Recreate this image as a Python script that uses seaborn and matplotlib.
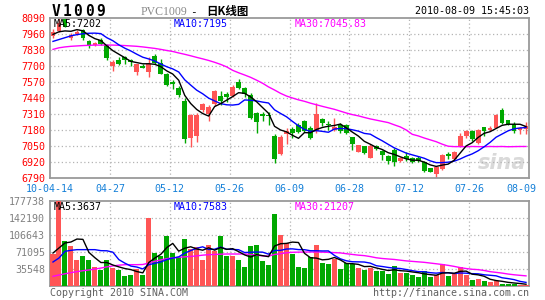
import numpy as np
import pandas as pd
import matplotlib
matplotlib.use("Agg")
import matplotlib.pyplot as plt
import seaborn as sns

# ---------------- data ----------------
date_labels = ["10-04-14", "04-27", "05-12", "05-26", "06-09",
               "06-28", "07-12", "07-26", "08-09"]

opens = [7946, 7985, 8080, 7928, 7962, 7990, 7905, 7868, 7910, 7870,
         7703, 7748, 7770, 7750, 7655, 7703, 7650, 7785, 7722, 7635,
         7573, 7522, 7418, 7112, 7131, 7343, 7310, 7389, 7456, 7472,
         7459, 7573, 7524, 7464, 7315, 7310, 7305, 7131, 6982, 7150,
         7190, 7221, 7253, 7200, 7175, 7270, 7225, 7178, 7221, 7221,
         7121, 7004, 7050, 6955, 7050, 7010, 6972, 7017, 6928, 6965,
         6950, 6955, 6923, 6869, 6820, 6863, 6985, 6945, 7045, 7134,
         7172, 7072, 7202, 7183, 7199, 7343, 7261, 7226, 7180, 7190]
closes = [7973, 8050, 8020, 7955, 7980, 7925, 7862, 7888, 7878, 7765,
          7730, 7718, 7745, 7730, 7715, 7682, 7720, 7722, 7635, 7542,
          7555, 7466, 7110, 7302, 7302, 7389, 7364, 7497, 7418, 7445,
          7532, 7524, 7470, 7275, 7248, 7295, 7290, 6942, 7126, 7172,
          7155, 7167, 7175, 7115, 7310, 7236, 7218, 7205, 7172, 7155,
          7064, 7058, 6990, 7053, 7028, 6977, 6928, 6923, 6955, 6945,
          6923, 6925, 6848, 6842, 6882, 6977, 6965, 7004, 7134, 7172,
          7107, 7180, 7172, 7200, 7302, 7234, 7226, 7172, 7199, 7210]
highs = [7998, 8088, 8090, 7965, 7992, 8000, 7912, 7895, 7925, 7880,
         7750, 7770, 7785, 7755, 7720, 7720, 7775, 7795, 7760, 7645,
         7585, 7537, 7437, 7310, 7315, 7400, 7380, 7505, 7497, 7485,
         7545, 7595, 7530, 7478, 7330, 7330, 7330, 7150, 7140, 7195,
         7205, 7235, 7262, 7210, 7400, 7275, 7250, 7275, 7235, 7230,
         7126, 7062, 7053, 7070, 7058, 7017, 6977, 7030, 6963, 7000,
         6960, 6965, 6930, 6875, 6885, 6985, 7000, 7010, 7153, 7180,
         7178, 7188, 7205, 7213, 7310, 7357, 7265, 7242, 7202, 7245]
lows = [7930, 7975, 8015, 7912, 7955, 7915, 7845, 7860, 7870, 7750,
        7662, 7705, 7715, 7700, 7630, 7680, 7608, 7715, 7632, 7540,
        7515, 7451, 7075, 7045, 7085, 7330, 7256, 7375, 7385, 7405,
        7450, 7515, 7450, 7268, 7158, 7250, 7220, 6909, 6975, 7070,
        7115, 7155, 7165, 7110, 7155, 7215, 7180, 7170, 7155, 7145,
        7017, 6998, 6985, 6950, 7017, 6937, 6905, 6890, 6923, 6925,
        6915, 6920, 6840, 6835, 6793, 6855, 6945, 6935, 7040, 7118,
        7090, 7068, 7135, 7172, 7195, 7225, 7220, 7153, 7145, 7150]
volumes = [66900, 190000, 94800, 84300, 55100, 63400, 53700, 39000, 34200, 55000,
           37600, 34200, 21600, 23000, 34900, 23700, 142200, 68000, 62000, 105200,
           68000, 61000, 99000, 77000, 82000, 55100, 86400, 74000, 105200, 62000,
           63000, 55100, 40000, 82900, 86400, 53000, 44300, 151200, 107000, 90000,
           66500, 40000, 38000, 61000, 86000, 48500, 45500, 57000, 35500, 49000,
           46500, 38000, 34000, 38000, 32000, 32000, 26000, 42000, 28000, 28000,
           23000, 18000, 30700, 19000, 22000, 45000, 21600, 25000, 40000, 24000,
           13000, 14700, 10300, 8700, 10300, 5000, 4000, 3500, 3000, 3000]

# moving-average values before a full window is available
price_ma5_head = [7957, 7978, 7985, 7982]
price_ma10_head = [7900, 7915, 7930, 7945, 7955, 7962, 7966, 7967, 7963]
price_ma30 = [7835, 7848, 7855, 7860, 7863, 7866, 7868, 7870, 7870, 7870,
              7870, 7868, 7866, 7863, 7860, 7855, 7849, 7843, 7835, 7826,
              7818, 7806, 7795, 7783, 7770, 7758, 7745, 7730, 7713, 7693,
              7665, 7645, 7627, 7608, 7585, 7560, 7530, 7505, 7478, 7456,
              7440, 7425, 7413, 7398, 7385, 7372, 7360, 7348, 7333, 7318,
              7305, 7295, 7282, 7270, 7260, 7250, 7240, 7222, 7205, 7180,
              7145, 7132, 7115, 7100, 7085, 7065, 7048, 7045, 7045, 7044,
              7046, 7045, 7044, 7046, 7045, 7046, 7044, 7045, 7046, 7046]
vol_ma5_head = [69000, 79500, 90000, 92000]
vol_ma10_head = [50200, 58500, 72500, 74600, 76000, 76000, 76000, 76000, 73900]
vol_ma30 = [20200, 23000, 25500, 28000, 30000, 32000, 33500, 35500, 37500, 40000,
            42000, 43500, 44600, 44600, 44600, 45000, 48000, 51600, 54500, 57200,
            58800, 60000, 61000, 61800, 63000, 64500, 65500, 66000, 66500, 66900,
            66900, 66900, 66900, 66000, 64500, 63000, 62500, 66000, 67500, 69500,
            70500, 70800, 71000, 71100, 71100, 70800, 70300, 69800, 69200, 67500,
            66000, 64500, 63500, 61500, 59000, 57500, 56500, 55500, 54000, 52500,
            51500, 50500, 49500, 48000, 46500, 45000, 43200, 41000, 38500, 36500,
            35000, 34200, 32500, 30000, 28500, 27000, 25000, 23500, 22300, 21200]

price_ticks = [6790, 6920, 7050, 7180, 7310, 7440, 7570, 7700, 7830, 7960, 8090]
vol_ticks = [35548, 71095, 106643, 142190, 177738]

# ---------------- derived ----------------
n = len(closes)
idx = np.arange(n)
df = pd.DataFrame({"idx": idx, "open": opens, "close": closes, "high": highs,
                   "low": lows, "vol": volumes})
df["dir"] = np.where(df["close"] >= df["open"], "up", "down")

def moving(series, window, head):
    m = pd.Series(series, dtype=float).rolling(window).mean()
    m.iloc[:len(head)] = head
    return m.values

ma5 = moving(closes, 5, price_ma5_head)
ma10 = moving(closes, 10, price_ma10_head)
vma5 = moving(volumes, 5, vol_ma5_head)
vma10 = moving(volumes, 10, vol_ma10_head)

RED = "#FF5555"
GREEN = "#00A800"
GRID = "#B4B4B4"
FRAME = "#9A9A9A"
MONO = "DejaVu Sans Mono"

W, H = 545, 300
fig = plt.figure(figsize=(W / 100, H / 100), dpi=100)
fig.patch.set_facecolor("white")

def fx(px):
    return px / W

def fy(py):
    return 1 - py / H

L, R = 50, 529
ax = fig.add_axes([fx(L), fy(178), (R - L) / W, 160 / H])
axv = fig.add_axes([fx(L), fy(286), (R - L) / W, 85 / H])

# ---------------- candles ----------------
colors = np.where(df["dir"] == "up", RED, GREEN)
ax.vlines(idx, df["low"], df["high"], colors=colors, linewidth=1.0, zorder=2)
body_bottom = np.minimum(df["open"], df["close"])
body_h = np.maximum(np.abs(df["close"] - df["open"]), 9)
ax.bar(idx, body_h, bottom=body_bottom, width=0.8, color=colors,
       linewidth=0, zorder=3)

sns.lineplot(x=idx, y=price_ma30, ax=ax, color="#FF00FF", linewidth=1.0,
             legend=False, zorder=4)
sns.lineplot(x=idx, y=ma10, ax=ax, color="#0000FF", linewidth=1.0,
             legend=False, zorder=5)
sns.lineplot(x=idx, y=ma5, ax=ax, color="black", linewidth=1.0,
             legend=False, zorder=6)

# ---------------- volume ----------------
sns.barplot(data=df, x="idx", y="vol", hue="dir", native_scale=True,
            palette={"up": RED, "down": GREEN}, dodge=False, width=0.84,
            saturation=1, errorbar=None, legend=False, ax=axv, zorder=3,
            linewidth=0)
sns.lineplot(x=idx, y=vol_ma30, ax=axv, color="#FF00FF", linewidth=1.0,
             legend=False, zorder=4)
sns.lineplot(x=idx, y=vma10, ax=axv, color="#0000FF", linewidth=1.0,
             legend=False, zorder=5)
sns.lineplot(x=idx, y=vma5, ax=axv, color="black", linewidth=1.0,
             legend=False, zorder=6)

# ---------------- axes styling ----------------
vgrid = [9.5 + 10 * k for k in range(7)]
for a in (ax, axv):
    a.set_xlim(-0.5, n - 0.5)
    a.set_xlabel("")
    a.set_ylabel("")
    a.set_xticks([])
    for ln in vgrid:
        a.axvline(ln, color=GRID, linewidth=0.9, linestyle=(0, (1, 2)), zorder=1)
    for s in a.spines.values():
        s.set_color(FRAME)
        s.set_linewidth(1.3)
    a.tick_params(axis="y", length=0, pad=3.5)
    a.set_facecolor("white")

ax.set_ylim(6790, 8090)
ax.set_yticks(price_ticks)
ax.set_yticklabels([str(t) for t in price_ticks], color="#FF0000",
                   fontsize=7.2, family=MONO)
for t in price_ticks[1:-1]:
    ax.axhline(t, color=GRID, linewidth=0.9, linestyle=(0, (1, 2)), zorder=1)

axv.set_ylim(0, 177738)
axv.set_yticks(vol_ticks)
axv.set_yticklabels([str(t) for t in vol_ticks], color="#808080",
                    fontsize=7.2, family=MONO)
for t in vol_ticks[:-1]:
    axv.axhline(t, color=GRID, linewidth=0.9, linestyle=(0, (1, 2)), zorder=1)

# date labels
label_x = [-0.5 + 10 * k for k in range(len(date_labels))]
label_x[-1] = 78.3
for xv, lab in zip(label_x, date_labels):
    ax.text(xv, -0.07, lab, transform=ax.get_xaxis_transform(), ha="center",
            va="center", color="#1580D8", fontsize=7.2, family=MONO)

# MA legends
for px, txt, col in [(54, "MA5:7202", "black"), (174, "MA10:7195", "#0000FF"),
                     (295, "MA30:7045.83", "#FF00FF")]:
    fig.text(fx(px), fy(24), txt, fontsize=7.2, family=MONO, color=col,
             va="center", ha="left")
for px, txt, col in [(54, "MA5:3637", "black"), (174, "MA10:7583", "#0000FF"),
                     (295, "MA30:21207", "#FF00FF")]:
    fig.text(fx(px), fy(207), txt, fontsize=7.2, family=MONO, color=col,
             va="center", ha="left")

# watermark
ax.text(0.995, 0.03, "sina", transform=ax.transAxes, ha="right", va="bottom",
        fontsize=15, fontweight="bold", style="italic", color="#D9D9D9",
        family="DejaVu Sans", zorder=0)

# header: wide-spaced bold code
for k, ch in enumerate("V1009"):
    fig.text(fx(55.5 + 11.2 * k), fy(11), ch, fontsize=10.5, fontweight="bold",
             family=MONO, color="black", va="center", ha="center")
fig.text(fx(141), fy(12), "PVC1009", fontsize=8.5, family="Liberation Serif",
         color="#8A8A8A", va="center", ha="left")
fig.text(fx(190), fy(12), "-", fontsize=8, family=MONO, color="black",
         va="center", ha="left")
fig.text(fx(206), fy(12), "日K线图", fontsize=8.3, fontweight="bold",
         family=["Noto Sans CJK SC", "DejaVu Sans"], color="black",
         va="center", ha="left")
fig.text(fx(529), fy(11.5), "2010-08-09 15:45:03", fontsize=7.2, family=MONO,
         color="black", va="center", ha="right")

# footer
fig.text(fx(50), fy(293), "Copyright 2010 SINA.COM", fontsize=7.2, family=MONO,
         color="#606060", va="center", ha="left")
fig.text(fx(529), fy(293), "http://finance.sina.com.cn", fontsize=7.2,
         family=MONO, color="#606060", va="center", ha="right")

fig.savefig("out.png", dpi=100, facecolor="white")
